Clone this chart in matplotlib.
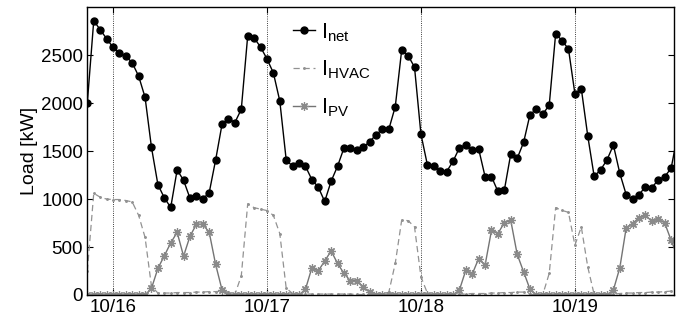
import numpy as np
import matplotlib
matplotlib.use("Agg")
import matplotlib.pyplot as plt

# hourly loads, first sample at 10/15 20:00
net = [2005, 2860, 2767, 2673, 2583, 2524, 2493, 2420, 2282, 2061,
       1538, 1151, 1013, 913, 1304, 1196, 1009, 1034, 999, 1068,
       1408, 1781, 1839, 1798, 1937, 2704, 2680, 2586, 2462, 2316,
       2023, 1408, 1342, 1377, 1342, 1203, 1124, 975, 1186, 1342,
       1532, 1532, 1515, 1538, 1598, 1670, 1729, 1729, 1964, 2555,
       2497, 2376, 1677, 1359, 1342, 1290, 1286, 1393, 1535, 1566,
       1507, 1522, 1234, 1234, 1079, 1092, 1470, 1424, 1590, 1881,
       1937, 1885, 1981, 2725, 2652, 2565, 2099, 2151, 1660, 1238,
       1304, 1408, 1563, 1269, 1045, 996, 1045, 1131, 1120, 1200,
       1234, 1321, 1670]

hvac = [250, 1060, 1020, 1000, 995, 995, 985, 970, 830, 600,
        90, 20, 20, 20, 25, 25, 25, 30, 30, 35,
        35, 40, 30, 5, 200, 950, 910, 895, 880, 830,
        640, 70, 15, 5, 10, 10, 10, 10, 10, 10,
        10, 10, 5, 5, 5, 0, 0, 30, 330, 780,
        775, 710, 190, 20, 0, 0, 0, 0, 10, 10,
        15, 15, 15, 20, 20, 25, 25, 30, 30, 10,
        0, 5, 225, 910, 882, 861, 519, 709, 294, 5,
        0, 0, 10, 15, 20, 20, 25, 25, 30, 30,
        35, 40, 40]

pv = [0, 0, 0, 0, 0, 0, 0, 0, 0, 0,
      69, 277, 408, 543, 653, 405, 612, 737, 737, 653,
      318, 52, 0, 0, 0, 0, 0, 0, 0, 0,
      0, 0, 0, 0, 59, 283, 252, 353, 460, 329,
      225, 148, 148, 86, 27, 0, 0, 0, 0, 0,
      0, 0, 0, 0, 0, 0, 0, 0, 52, 259,
      218, 380, 311, 674, 640, 754, 778, 425, 242, 59,
      0, 0, 0, 0, 0, 0, 0, 0, 0, 0,
      0, 0, 52, 283, 702, 744, 806, 830, 768, 792,
      750, 570, 400]

day_ticks = [0, 24, 48, 72]
day_labels = ["10/16", "10/17", "10/18", "10/19"]

plt.rcParams['font.family'] = ['Liberation Sans', 'DejaVu Sans']
plt.rcParams['mathtext.default'] = 'regular'

hours = np.arange(len(net)) - 4

fig = plt.figure(figsize=(6.86, 3.27), dpi=100)
ax = fig.add_axes([0.1273, 0.098, 0.8557, 0.8797])

ax.plot(hours, net, '-', color='black', lw=1.0, marker='o', ms=5,
        mfc='black', mec='black', label=r'$I_{net}$')
ax.plot(hours, hvac, '--', color='#929292', lw=0.9, dashes=(5, 3),
        marker='.', ms=2.2, label=r'$I_{HVAC}$')
# 8-spoke asterisk markers for PV
ax.plot(hours, pv, '-', color='#747474', lw=1.0, marker=(8, 2, 0), ms=6,
        mew=0.9, mec='#8a8a8a', label=r'$I_{PV}$')

ax.set_xlim(-4, 87.5)
ax.set_ylim(0, 3000)
ax.set_xticks(day_ticks)
ax.set_xticklabels(day_labels)
ax.set_yticks([0, 500, 1000, 1500, 2000, 2500])
ax.set_ylabel('Load [kW]', fontsize=14, labelpad=2)

ax.tick_params(direction='in', top=True, right=True, length=4, width=0.8,
               labelsize=13.5, pad=3)
ax.grid(axis='x', linestyle=':', color='black', lw=0.6)
for s in ax.spines.values():
    s.set_linewidth(1.0)

leg = ax.legend(loc='upper left', bbox_to_anchor=(0.318, 1.02), frameon=False,
                fontsize=15.5, handlelength=1.0, handletextpad=0.3,
                labelspacing=0.7)

fig.savefig('out.png', dpi=100)
